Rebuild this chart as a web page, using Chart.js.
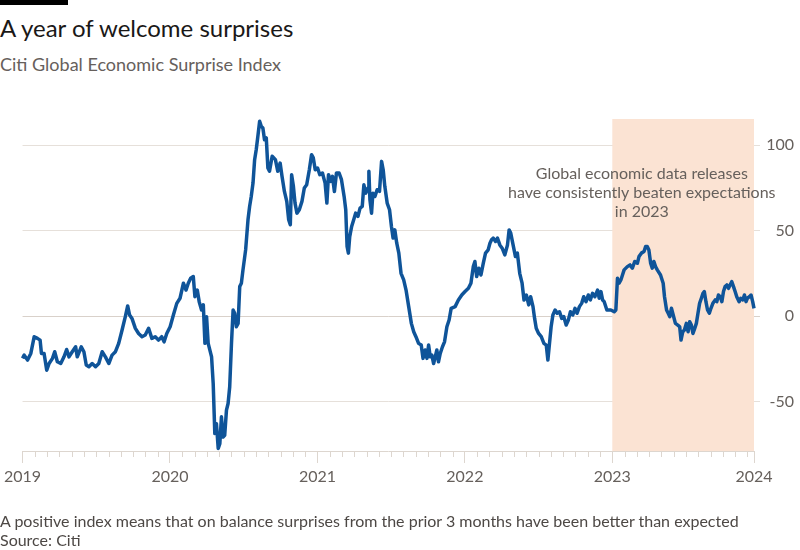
<!DOCTYPE html>
<html>
<head>
<meta charset="utf-8">
<script src="https://cdn.jsdelivr.net/npm/chart.js@4.4.1/dist/chart.umd.min.js"></script>
<style>
  body { margin: 0; background: #fff; font-family: "Lato", sans-serif; }
  #wrap { position: relative; width: 800px; height: 550px; overflow: hidden; }
  #bar { position: absolute; left: 0; top: 0; width: 68px; height: 5px; background: #000; }
  .txt { position: absolute; left: 0; white-space: nowrap; }
  #title { top: 13px; font-size: 24px; line-height: 30px; color: #1a1817; }
  #subtitle { top: 53px; font-size: 18px; line-height: 22px; color: #66605c; }
  #note { top: 511px; font-size: 16px; line-height: 19px; color: #4d4845; }
  #myChart { position: absolute; left: 0; top: 0; }
</style>
</head>
<body>
<div id="wrap">
  <div id="bar"></div>
  <div class="txt" id="title">A year of welcome surprises</div>
  <div class="txt" id="subtitle">Citi Global Economic Surprise Index</div>
  <canvas id="myChart" width="800" height="550"></canvas>
  <div class="txt" id="note">A positive index means that on balance surprises from the prior 3 months have been better than expected<br>Source: Citi</div>
</div>
<script>
// dates as decimal years
const dates = [
  2019.000, 2019.011, 2019.034, 2019.056, 2019.079, 2019.101, 2019.119, 2019.128, 2019.146, 2019.164,
  2019.180, 2019.203, 2019.218, 2019.236, 2019.259, 2019.281, 2019.299, 2019.315, 2019.337, 2019.360,
  2019.371, 2019.398, 2019.416, 2019.432, 2019.450, 2019.472, 2019.495, 2019.517, 2019.540, 2019.562,
  2019.585, 2019.607, 2019.630, 2019.652, 2019.675, 2019.697, 2019.713, 2019.726, 2019.742, 2019.765,
  2019.787, 2019.810, 2019.832, 2019.855, 2019.877, 2019.900, 2019.922, 2019.944, 2019.960, 2019.978,
  2020.001, 2020.023, 2020.046, 2020.068, 2020.091, 2020.109, 2020.124, 2020.140, 2020.158, 2020.169,
  2020.185, 2020.198, 2020.214, 2020.226, 2020.237, 2020.248, 2020.259, 2020.282, 2020.293, 2020.304,
  2020.315, 2020.327, 2020.338, 2020.349, 2020.360, 2020.371, 2020.383, 2020.394, 2020.405, 2020.417,
  2020.428, 2020.439, 2020.450, 2020.462, 2020.473, 2020.484, 2020.495, 2020.513, 2020.529, 2020.540,
  2020.551, 2020.563, 2020.574, 2020.585, 2020.596, 2020.608, 2020.619, 2020.630, 2020.641, 2020.653,
  2020.664, 2020.675, 2020.693, 2020.715, 2020.731, 2020.747, 2020.760, 2020.776, 2020.792, 2020.805,
  2020.816, 2020.825, 2020.837, 2020.848, 2020.861, 2020.877, 2020.895, 2020.911, 2020.927, 2020.945,
  2020.960, 2020.972, 2020.985, 2021.001, 2021.016, 2021.034, 2021.052, 2021.064, 2021.075, 2021.091,
  2021.102, 2021.115, 2021.129, 2021.147, 2021.163, 2021.181, 2021.192, 2021.201, 2021.210, 2021.219,
  2021.232, 2021.246, 2021.259, 2021.275, 2021.289, 2021.304, 2021.315, 2021.327, 2021.343, 2021.349,
  2021.356, 2021.367, 2021.376, 2021.390, 2021.405, 2021.421, 2021.435, 2021.446, 2021.457, 2021.473,
  2021.489, 2021.502, 2021.513, 2021.525, 2021.538, 2021.552, 2021.567, 2021.585, 2021.601, 2021.619,
  2021.637, 2021.653, 2021.668, 2021.686, 2021.704, 2021.716, 2021.731, 2021.743, 2021.754, 2021.765,
  2021.776, 2021.788, 2021.799, 2021.810, 2021.821, 2021.833, 2021.848, 2021.862, 2021.878, 2021.893,
  2021.907, 2021.934, 2021.956, 2021.979, 2022.001, 2022.024, 2022.041, 2022.057, 2022.068, 2022.080,
  2022.095, 2022.109, 2022.125, 2022.140, 2022.158, 2022.170, 2022.181, 2022.192, 2022.208, 2022.221,
  2022.237, 2022.253, 2022.271, 2022.289, 2022.300, 2022.311, 2022.327, 2022.343, 2022.356, 2022.372,
  2022.388, 2022.401, 2022.417, 2022.433, 2022.446, 2022.462, 2022.473, 2022.484, 2022.500, 2022.518,
  2022.536, 2022.552, 2022.563, 2022.574, 2022.585, 2022.597, 2022.612, 2022.626, 2022.642, 2022.657,
  2022.671, 2022.687, 2022.702, 2022.716, 2022.732, 2022.747, 2022.761, 2022.777, 2022.792, 2022.806,
  2022.822, 2022.837, 2022.851, 2022.866, 2022.882, 2022.900, 2022.911, 2022.923, 2022.934, 2022.945,
  2022.963, 2022.990, 2023.013, 2023.024, 2023.035, 2023.046, 2023.058, 2023.069, 2023.080, 2023.102,
  2023.120, 2023.136, 2023.152, 2023.170, 2023.181, 2023.197, 2023.215, 2023.226, 2023.237, 2023.248,
  2023.260, 2023.271, 2023.282, 2023.293, 2023.305, 2023.327, 2023.345, 2023.354, 2023.368, 2023.379,
  2023.390, 2023.401, 2023.413, 2023.428, 2023.444, 2023.457, 2023.466, 2023.478, 2023.489, 2023.502,
  2023.514, 2023.525, 2023.536, 2023.547, 2023.559, 2023.570, 2023.581, 2023.592, 2023.604, 2023.615,
  2023.624, 2023.635, 2023.646, 2023.658, 2023.669, 2023.682, 2023.698, 2023.709, 2023.720, 2023.732,
  2023.743, 2023.754, 2023.765, 2023.777, 2023.788, 2023.799, 2023.810, 2023.822, 2023.833, 2023.844,
  2023.860, 2023.871, 2023.885, 2023.896, 2023.907, 2023.916, 2023.930, 2023.941, 2023.952, 2023.961
];
const surprise = [
  -24.8, -22.9, -25.8, -21.9, -12.1, -13.1, -14.1, -21.9, -21.9, -31.7,
  -27.8, -24.8, -20.9, -26.8, -27.8, -23.9, -19.6, -23.9, -20.9, -18.0,
  -23.9, -18.0, -20.9, -28.7, -29.7, -27.8, -29.7, -27.8, -20.9, -23.9,
  -27.8, -22.9, -20.9, -16.0, -8.2, -0.4, 5.9, 0.6, -1.4, -7.2,
  -10.2, -12.1, -11.1, -7.2, -13.1, -12.1, -14.1, -12.1, -15.1, -10.2,
  -6.3, 0.6, 7.4, 10.4, 19.2, 15.2, 19.2, 22.1, 23.1, 11.3,
  15.2, 8.4, 3.5, 6.5, -16.0, -0.4, -16.0, -23.9, -39.5, -68.8,
  -63.0, -77.5, -74.7, -59.0, -70.8, -69.8, -55.1, -51.2, -41.4, -16.0,
  3.5, 1.6, -6.3, -4.3, 17.2, 19.2, 27.0, 38.7, 56.3, 64.1,
  70.0, 77.8, 91.5, 97.4, 105.2, 114.0, 111.0, 110.0, 103.2, 104.2,
  86.6, 84.7, 93.5, 91.5, 84.7, 89.5, 81.7, 72.9, 67.1, 56.3,
  53.4, 82.7, 75.9, 66.1, 60.2, 62.2, 67.1, 74.9, 76.8, 85.6,
  94.4, 92.5, 85.6, 86.6, 82.7, 83.7, 77.8, 66.1, 82.7, 78.8,
  81.7, 72.9, 83.7, 83.7, 79.8, 70.0, 62.2, 40.7, 36.8, 46.5,
  52.4, 56.3, 60.2, 58.3, 63.1, 64.1, 76.8, 71.9, 74.9, 84.7,
  68.0, 60.2, 71.9, 70.0, 73.9, 72.9, 90.5, 85.6, 75.9, 66.1,
  62.2, 52.4, 45.6, 50.4, 42.6, 36.8, 25.0, 21.1, 15.2, 5.5,
  -4.3, -9.2, -12.1, -16.0, -17.0, -24.8, -19.9, -24.8, -17.0, -23.9,
  -22.9, -27.8, -23.9, -19.9, -26.8, -21.9, -18.0, -15.1, -6.3, -2.3,
  4.5, 5.5, 9.4, 12.3, 14.3, 16.2, 19.2, 28.9, 31.9, 23.1,
  28.0, 24.0, 30.9, 36.8, 38.7, 42.6, 44.6, 45.6, 43.6, 45.6,
  41.6, 39.7, 35.8, 41.6, 50.4, 48.5, 41.6, 34.8, 36.8, 25.0,
  19.2, 9.4, 12.3, 6.5, 11.3, 5.5, -1.4, -7.2, -10.2, -12.1,
  -16.0, -17.0, -25.8, -16.0, -6.3, 0.6, 3.5, 1.6, 2.5, -1.4,
  -0.4, -5.3, -2.3, 2.5, 0.6, 4.5, 1.6, 5.5, 7.4, 11.3,
  8.4, 12.3, 9.4, 13.3, 11.3, 15.2, 10.4, 14.3, 9.4, 8.4,
  3.5, 3.5, 2.5, 3.5, 22.1, 19.2, 21.1, 24.0, 27.0, 28.9,
  29.9, 28.0, 31.9, 30.9, 34.8, 36.8, 37.7, 40.7, 40.7, 38.7,
  30.9, 28.0, 31.9, 28.9, 27.0, 24.0, 19.2, 11.3, 3.5, 1.6,
  -0.4, 4.5, 0.6, -4.3, -5.3, -6.3, -14.1, -9.2, -8.2, -4.3,
  -9.2, -3.3, -5.3, -10.2, -7.2, -4.3, 1.6, 7.4, 10.4, 13.3,
  14.3, 8.4, 3.5, 1.6, 4.5, 7.4, 9.4, 8.4, 12.3, 11.3,
  8.4, 14.3, 17.2, 18.2, 16.2, 18.2, 20.1, 17.2, 14.3, 11.3,
  8.4, 10.4, 9.4, 12.3, 8.4, 10.4, 11.3, 12.3, 8.4, 4.5
];

const yearTicks = [2019, 2020, 2021, 2022, 2023, 2023.961];
const yearLabels = ["2019", "2020", "2021", "2022", "2023", "2024"];
const valueTicks = [-50, 0, 50, 100];
const highlight = [2023, 2023.961];
const noteLines = ["Global economic data releases", "have consistently beaten expectations", "in 2023"];

const ink = "#66605c";
const gridColor = "#e6e0da";

// peach band for 2023, drawn over the grid but under the line
const bandPlugin = {
  id: "band",
  beforeDatasetsDraw(chart) {
    const { ctx, chartArea, scales } = chart;
    const x0 = scales.x.getPixelForValue(highlight[0]);
    const x1 = scales.x.getPixelForValue(highlight[1]);
    ctx.save();
    ctx.fillStyle = "#fbe3d3";
    ctx.fillRect(x0, chartArea.top, x1 - x0, chartArea.bottom - chartArea.top);
    ctx.restore();
  },
  afterDraw(chart) {
    const { ctx, chartArea, scales } = chart;
    // monthly minor ticks
    ctx.save();
    ctx.strokeStyle = "#ddd6cf";
    ctx.lineWidth = 1;
    for (let k = 1; k < 60; k++) {
      if (k % 12 === 0) continue;
      const x = Math.round(scales.x.getPixelForValue(2019 + k / 12)) + 0.5;
      ctx.beginPath();
      ctx.moveTo(x, chartArea.bottom);
      ctx.lineTo(x, chartArea.bottom + 6);
      ctx.stroke();
    }
    // annotation
    ctx.fillStyle = ink;
    ctx.font = "16px Lato";
    ctx.textAlign = "center";
    ctx.textBaseline = "middle";
    const cx = scales.x.getPixelForValue(2023.2);
    const cy = scales.y.getPixelForValue(83);
    noteLines.forEach((t, i) => ctx.fillText(t, cx, cy + i * 19));
    ctx.restore();
  }
};

let myChart = new Chart(document.getElementById("myChart").getContext("2d"), {
  type: "line",
  data: {
    datasets: [
      {
        label: "Citi Global Economic Surprise Index",
        data: dates.map((d, i) => ({ x: d, y: surprise[i] })),
        borderColor: "#0f5499",
        borderWidth: 3.5,
        borderJoinStyle: "round",
        pointRadius: 0,
        tension: 0,
        clip: false,
      },
    ],
  },
  options: {
    responsive: false,
    animation: false,
    layout: { padding: { top: 119, left: 18, right: 6, bottom: 59 } },
    plugins: { legend: { display: false }, tooltip: { enabled: false } },
    scales: {
      x: {
        type: "linear",
        min: 2019,
        max: 2023.961,
        afterBuildTicks: (scale) => { scale.ticks = yearTicks.map((v) => ({ value: v })); },
        afterFit: (scale) => { scale.height = 40; },
        ticks: {
          autoSkip: false,
          maxRotation: 0,
          padding: 4,
          color: ink,
          font: { family: "Lato", size: 16 },
          callback: (v, i) => yearLabels[i],
        },
        grid: { drawOnChartArea: false, tickLength: 12, tickColor: "#ddd6cf" },
        border: { color: "#ddd6cf" },
      },
      y: {
        position: "right",
        min: -79,
        max: 115.3,
        afterBuildTicks: (scale) => { scale.ticks = valueTicks.map((v) => ({ value: v })); },
        afterFit: (scale) => { scale.width = 40; },
        ticks: {
          crossAlign: "far",
          padding: 6,
          color: ink,
          font: { family: "Lato", size: 16 },
        },
        grid: {
          color: (c) => (c.tick && c.tick.value === 0 ? "#d9d1ca" : gridColor),
          tickLength: 6,
        },
        border: { display: false },
      },
    },
  },
  plugins: [bandPlugin],
});
</script>
</body>
</html>
